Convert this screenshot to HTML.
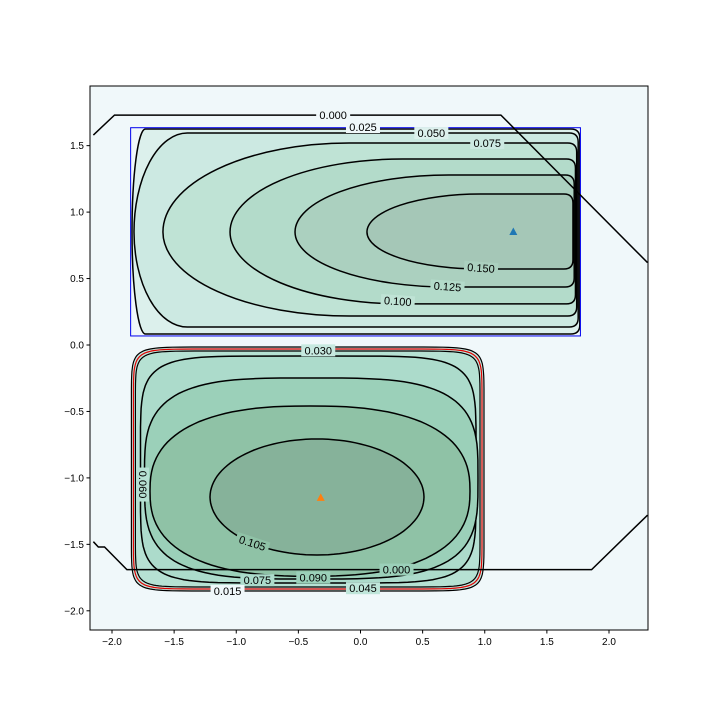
<!DOCTYPE html>
<html><head><meta charset="utf-8">
<style>
body{margin:0;background:#fff;}
svg text{font-family:"Liberation Sans",sans-serif;}
</style></head>
<body>
<svg id="chart" width="720" height="720" xmlns="http://www.w3.org/2000/svg">
<rect x="0" y="0" width="720" height="720" fill="#fff"/>
<g id="plot"></g>
</svg>
<script>
// ---- data ----
const xTicks = [-2.0,-1.5,-1.0,-0.5,0.0,0.5,1.0,1.5,2.0];
const xTickLabels = ["\u22122.0","\u22121.5","\u22121.0","\u22120.5","0.0","0.5","1.0","1.5","2.0"];
const yTicks = [1.5,1.0,0.5,0.0,-0.5,-1.0,-1.5,-2.0];
const yTickLabels = ["1.5","1.0","0.5","0.0","\u22120.5","\u22121.0","\u22121.5","\u22122.0"];
// top cluster contours: level, left, right, top, bottom, bend
const topLevels = [0.025,0.050,0.075,0.100,0.125,0.150];
const topLeft   = [-1.839,-1.823,-1.590,-1.050,-0.527,0.052];
const topRight  = [1.765,1.752,1.740,1.730,1.720,1.710];
const topTop    = [1.625,1.595,1.520,1.400,1.279,1.136];
const topBottom = [0.083,0.135,0.218,0.309,0.436,0.572];
const topBend   = [0.03,0.12,0.45,0.5,0.55,0.55];
const topMidY = 0.85;
// bottom cluster contours (superellipse)
const botLevels = [0.015,0.030,0.045,0.060,0.075,0.090,0.105];
const botLeft   = [-1.844,-1.828,-1.812,-1.771,-1.739,-1.694,-1.211];
const botRight  = [0.994,0.978,0.962,0.930,0.946,0.881,0.511];
const botTop    = [-0.015,-0.030,-0.045,-0.083,-0.248,-0.459,-0.707];
const botBottom = [-1.851,-1.836,-1.821,-1.791,-1.761,-1.740,-1.580];
const botPower  = [14,14,14,6,3.5,2.5,2];
// zero-level polylines
const zeroTopX = [-2.15,-1.98,1.13,2.31];
const zeroTopY = [1.58,1.73,1.73,0.62];
const zeroBotX = [-2.15,-2.11,-2.06,-1.88,1.86,2.31];
const zeroBotY = [-1.48,-1.52,-1.52,-1.69,-1.69,-1.28];
const boxTop = [-1.85,1.77,1.635,0.068];
const markers = [[1.23,0.85,"#1f77b4"],[-0.32,-1.15,"#ff7f0e"]];
// ---- scales ----
const X0=90,X1=648,Y0=86,Y1=630;
function sx(v){return 360.5+v*124.25;}
function sy(v){return 345-v*132.9;}
const NS="http://www.w3.org/2000/svg";
const plot=document.getElementById('plot');
function mk(t,a,p){const e=document.createElementNS(NS,t);for(const k in a)e.setAttribute(k,a[k]);(p||plot).appendChild(e);return e;}
mk('rect',{x:X0,y:Y0,width:X1-X0,height:Y1-Y0,fill:'#f0f8fa'});
const cp=mk('clipPath',{id:'clip'});mk('rect',{x:X0,y:Y0,width:X1-X0,height:Y1-Y0},cp);
const g=mk('g',{'clip-path':'url(#clip)'});
const topFill=['#dcf0ec','#cce9e2','#bfe3d5','#b3dbca','#abd0bf','#a5c7b7'];
const botFill=['#c7e9e0','#bfe6da','#b6e1d3','#acdbcb','#9bd0b9','#8fc2a6','#86b29a'];
function topPath(i){
  const L=sx(topLeft[i]),R=sx(topRight[i]),T=sy(topTop[i]),B=sy(topBottom[i]),M=sy(topMidY);
  const w=Math.max(topBend[i]*(R-L),8), r=9;
  return `M${L},${M} A${w},${M-T} 0 0 1 ${L+w},${T} L${R-r},${T} Q${R},${T} ${R},${T+r} L${R},${B-r} Q${R},${B} ${R-r},${B} L${L+w},${B} A${w},${B-M} 0 0 1 ${L},${M} Z`;
}
function botPath(i){
  const L=sx(botLeft[i]),R=sx(botRight[i]),T=sy(botTop[i]),B=sy(botBottom[i]);
  const cx=(L+R)/2,cy=(T+B)/2,a=(R-L)/2,b=(B-T)/2,n=botPower[i];
  let d='';
  for(let k=0;k<=120;k++){const t=k/120*2*Math.PI,c=Math.cos(t),s=Math.sin(t);
    const px=cx+a*Math.sign(c)*Math.pow(Math.abs(c),2/n),py=cy+b*Math.sign(s)*Math.pow(Math.abs(s),2/n);
    d+=(k?'L':'M')+px.toFixed(1)+','+py.toFixed(1);}
  return d+'Z';
}
topLevels.forEach((lv,i)=>{const p=mk('path',{d:topPath(i),fill:topFill[i],stroke:'#000','stroke-width':1.5},g);

});
botLevels.forEach((lv,i)=>{const p=mk('path',{d:botPath(i),fill:botFill[i],stroke:i==1?'#e00000':'#000','stroke-width':i<3?1.2:1.5},g);

});
const bx=mk('rect',{x:sx(boxTop[0]),y:sy(boxTop[2]),width:sx(boxTop[1])-sx(boxTop[0]),height:sy(boxTop[3])-sy(boxTop[2]),fill:'none',stroke:'#0000ee','stroke-width':1},g);


function poly(xs,ys,name){const p=mk('polyline',{points:xs.map((x,i)=>sx(x)+','+sy(ys[i])).join(' '),fill:'none',stroke:'#000','stroke-width':1.5},g);

}
poly(zeroTopX,zeroTopY,'zero-contour-top');
poly(zeroBotX,zeroBotY,'zero-contour-bottom');
// labels
const labels=[["0.000",-0.22,1.73,0,'#f0f8fa'],["0.025",0.02,1.64,0,'#f0f8fa'],["0.050",0.57,1.595,0,'#dcf0ec'],["0.075",1.02,1.52,0,'#cce9e2'],
["0.150",0.97,0.58,4,'#abd0bf'],["0.125",0.7,0.44,4,'#b3dbca'],["0.100",0.3,0.33,4,'#bfe3d5'],
["0.030",-0.34,-0.04,0,'#c7e9e0'],["0.060",-1.75,-1.05,90,'#b6e1d3'],["0.105",-0.87,-1.49,18,'#8fc2a6'],
["0.000",0.29,-1.69,0,'#9bd0b9'],["0.090",-0.38,-1.75,0,'#9bd0b9'],["0.075",-0.83,-1.77,0,'#acdbcb'],["0.045",0.02,-1.83,0,'#bfe6da'],["0.015",-1.07,-1.85,0,'#f0f8fa']];
labels.forEach(l=>{const x=sx(l[1]),y=sy(l[2]);
const r=mk('rect',{x:x-17,y:y-6,width:34,height:12,fill:l[4],transform:`rotate(${l[3]} ${x} ${y})`},g);


const t=mk('text',{x:x,y:y+4,'font-size':11,'text-anchor':'middle',fill:'#000',transform:`rotate(${l[3]} ${x} ${y})`},g);t.textContent=l[0];

});
markers.forEach((m,i)=>{const x=sx(m[0]),y=sy(m[1]);
const p=mk('path',{d:`M${x},${y-4.5} L${x+4},${y+3} L${x-4},${y+3} Z`,fill:m[2]},g);

});
// axes
const fr=mk('rect',{x:X0,y:Y0,width:X1-X0,height:Y1-Y0,fill:'none',stroke:'#000','stroke-width':1});


xTicks.forEach((v,i)=>{const x=sx(v);mk('line',{x1:x,x2:x,y1:Y1,y2:Y1+3.5,stroke:'#000'});
const t=mk('text',{x:x,y:Y1+15,'font-size':10,'text-anchor':'middle'});t.textContent=xTickLabels[i];

});
yTicks.forEach((v,i)=>{const y=sy(v);mk('line',{x1:X0-3.5,x2:X0,y1:y,y2:y,stroke:'#000'});
const t=mk('text',{x:X0-6,y:y+3.5,'font-size':10,'text-anchor':'end'});t.textContent=yTickLabels[i];

});
</script>
</body></html>
